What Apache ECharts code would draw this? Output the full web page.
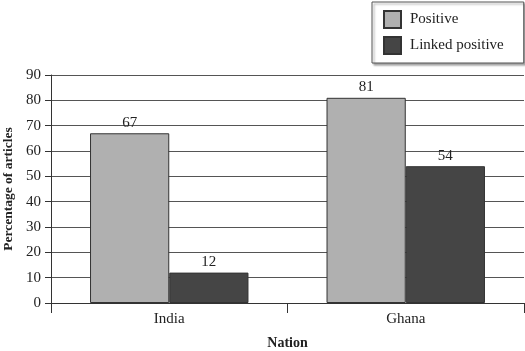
<!DOCTYPE html>
<html><head><meta charset="utf-8">
<script src="https://cdn.jsdelivr.net/npm/echarts@6/dist/echarts.min.js"></script>
<style>html,body{margin:0;padding:0;background:#fff}#c{width:525px;height:351px}</style>
</head><body><div id="c"></div>
<script>
var categories = ['India', 'Ghana'];
var positive = [67, 81];
var linkedPositive = [12, 54];
var yTicks = [0, 10, 20, 30, 40, 50, 60, 70, 80, 90];

var font = '"Liberation Serif", "DejaVu Serif", serif';
var chart = echarts.init(document.getElementById('c'), null, {renderer: 'canvas'});
chart.setOption({
  backgroundColor: '#fff',
  animation: false,
  textStyle: {fontFamily: font},
  legend: {
    orient: 'vertical',
    left: 372, top: 2,
    padding: [8, 20, 8, 11],
    icon: 'rect',
    itemWidth: 17, itemHeight: 17, itemGap: 7,
    borderColor: '#555', borderWidth: 1,
    shadowColor: 'rgba(0,0,0,0.35)', shadowOffsetX: 2, shadowOffsetY: 2, shadowBlur: 2,
    backgroundColor: '#fff',
    textStyle: {fontFamily: font, fontSize: 15, color: '#222', padding: [0,0,0,4]},
    data: ['Positive', 'Linked positive']
  },
  grid: {left: 51, right: 1, top: 75, bottom: 48, containLabel: false, outerBoundsMode: 'none'},
  xAxis: {
    type: 'category', data: categories,
    name: 'Nation', nameLocation: 'middle', nameGap: 33,
    nameTextStyle: {fontFamily: font, fontSize: 14, fontWeight: 'bold', color: '#222'},
    axisLine: {lineStyle: {color: '#333', width: 1}},
    axisTick: {show: true, length: 10, lineStyle: {color: '#333'}},
    axisLabel: {fontFamily: font, fontSize: 15, color: '#222', margin: 9}
  },
  yAxis: {
    type: 'value', min: yTicks[0], max: yTicks[yTicks.length-1], interval: 10,
    name: 'Percentage of articles', nameLocation: 'middle', nameGap: 34,
    nameTextStyle: {fontFamily: font, fontSize: 13.5, fontWeight: 'bold', color: '#222'},
    axisLine: {show: true, lineStyle: {color: '#333', width: 1}},
    axisTick: {show: true, length: 6, lineStyle: {color: '#333'}},
    axisLabel: {fontFamily: font, fontSize: 15, color: '#222', margin: 10},
    splitLine: {lineStyle: {color: '#555', width: 1}}
  },
  series: [
    {name: 'Positive', type: 'bar', data: positive, barGap: '0%', barCategoryGap: '33%',
     itemStyle: {color: '#b0b0b0', borderColor: '#333', borderWidth: 1},
     label: {show: true, position: 'top', distance: 3, fontFamily: font, fontSize: 15, color: '#222'}},
    {name: 'Linked positive', type: 'bar', data: linkedPositive, barGap: '0%', barCategoryGap: '33%',
     itemStyle: {color: '#454545', borderColor: '#333', borderWidth: 1},
     label: {show: true, position: 'top', distance: 3, fontFamily: font, fontSize: 15, color: '#222'}}
  ]
});
</script></body></html>
